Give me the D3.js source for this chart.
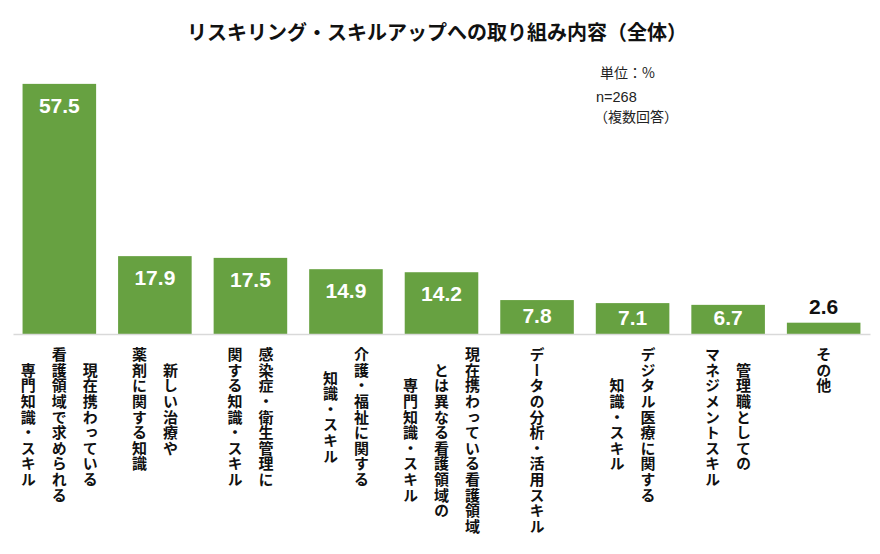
<!DOCTYPE html>
<html>
<head>
<meta charset="utf-8">
<script src="https://cdn.jsdelivr.net/npm/d3@7"></script>
<style>
  body { margin: 0; background: #fff; }
  svg { display: block; }
</style>
</head>
<body>
<div id="chart"></div>
<script>
// chart size
const width = 880;
const height = 554;
const margin = {left: 13, right: 10, top: 73, baseline: 334};

// data
const categories = [
  ["現在携わっている", "看護領域で求められる", "専門知識・スキル"],
  ["新しい治療や", "薬剤に関する知識"],
  ["感染症・衛生管理に", "関する知識・スキル"],
  ["介護・福祉に関する", "知識・スキル"],
  ["現在携わっている看護領域", "とは異なる看護領域の", "専門知識・スキル"],
  ["データの分析・活用スキル"],
  ["デジタル医療に関する", "知識・スキル"],
  ["管理職としての", "マネジメントスキル"],
  ["その他"]
];
const values = [57.5, 17.9, 17.5, 14.9, 14.2, 7.8, 7.1, 6.7, 2.6];
const titleText = "リスキリング・スキルアップへの取り組み内容（全体）";
const noteLines = ["単位：%", "n=268", "（複数回答）"];

const green = "#67a141";
const jpFont = "'Noto Sans CJK JP', 'Noto Sans', sans-serif";
const numFont = "'Liberation Sans', Arial, sans-serif";

const svg = d3.select("#chart")
  .append("svg")
  .attr("width", width)
  .attr("height", height);

// scales
const xScale = d3.scaleBand()
  .domain(d3.range(values.length))
  .range([margin.left, width - margin.right])
  .paddingInner(0.23)
  .paddingOuter(0.1);

const yScale = d3.scaleLinear()
  .domain([0, 60])
  .range([margin.baseline, margin.top]);

// title
svg.append("text")
  .attr("x", 437)
  .attr("y", 40)
  .attr("text-anchor", "middle")
  .attr("font-family", jpFont)
  .attr("font-weight", "bold")
  .attr("font-size", "20px")
  .attr("fill", "#111")
  .text(titleText);

// note (unit, n)
svg.append("text")
  .attr("x", 600).attr("y", 78)
  .attr("font-family", jpFont).attr("font-size", "14px").attr("fill", "#222")
  .text(noteLines[0]);
svg.append("text")
  .attr("x", 596).attr("y", 102)
  .attr("font-family", numFont).attr("font-size", "14.5px").attr("fill", "#222")
  .text(noteLines[1]);
svg.append("text")
  .attr("x", 594).attr("y", 122)
  .attr("font-family", jpFont).attr("font-size", "14px").attr("fill", "#222")
  .text(noteLines[2]);

// bars
svg.selectAll(".bar")
  .data(values)
  .enter()
  .append("rect")
    .attr("class", "bar")
    .attr("x", (d, i) => xScale(i))
    .attr("y", d => yScale(d))
    .attr("width", xScale.bandwidth())
    .attr("height", d => yScale(0) - yScale(d))
    .attr("fill", green);

// x axis: only the base line
const xAxis = svg.append("g")
  .attr("transform", `translate(0,${margin.baseline})`)
  .call(d3.axisBottom(xScale).tickSize(0).tickSizeOuter(0).tickFormat(""));
xAxis.select(".domain")
  .attr("stroke", "#d9d9d9")
  .attr("stroke-width", 1.5);

// value labels: inside the bar, above it when the bar is too short
const inside = d => (yScale(0) - yScale(d)) > 20;
const labelY = d => {
  if (!inside(d)) return yScale(d) - 9;
  const mid = (yScale(d) + yScale(0)) / 2 - 2;
  return Math.min(yScale(d) + 21, mid) + 8;   // baseline below the centre line
};
svg.selectAll(".val")
  .data(values)
  .enter()
  .append("text")
    .attr("class", "val")
    .attr("x", (d, i) => xScale(i) + xScale.bandwidth() / 2)
    .attr("y", labelY)
    .attr("text-anchor", "middle")
    .attr("font-family", numFont)
    .attr("font-weight", "bold")
    .attr("font-size", "21px")
    .attr("fill", d => inside(d) ? "#fff" : "#111")
    .text(d => d.toFixed(1));

// category labels, written vertically, first line on the right
const labelTop = 347;
const colGap = 31;

categories.forEach((lines, i) => {
  const cx = xScale(i) + xScale.bandwidth() / 2;
  const g = svg.append("g");
  const texts = lines.map((line, j) => g.append("text")
    .attr("x", cx + ((lines.length - 1) / 2 - j) * colGap)
    .attr("y", labelTop)
    .style("writing-mode", "vertical-rl")
    .attr("font-family", jpFont)
    .attr("font-weight", "bold")
    .attr("font-size", "15px")
    .attr("letter-spacing", "0.6px")
    .attr("fill", "#111")
    .text(line));
  // center each line along the longest one
  const lens = texts.map(t => t.node().getComputedTextLength());
  const maxLen = d3.max(lens);
  texts.forEach((t, j) => t.attr("y", labelTop + (maxLen - lens[j]) / 2));
});
</script>
</body>
</html>
